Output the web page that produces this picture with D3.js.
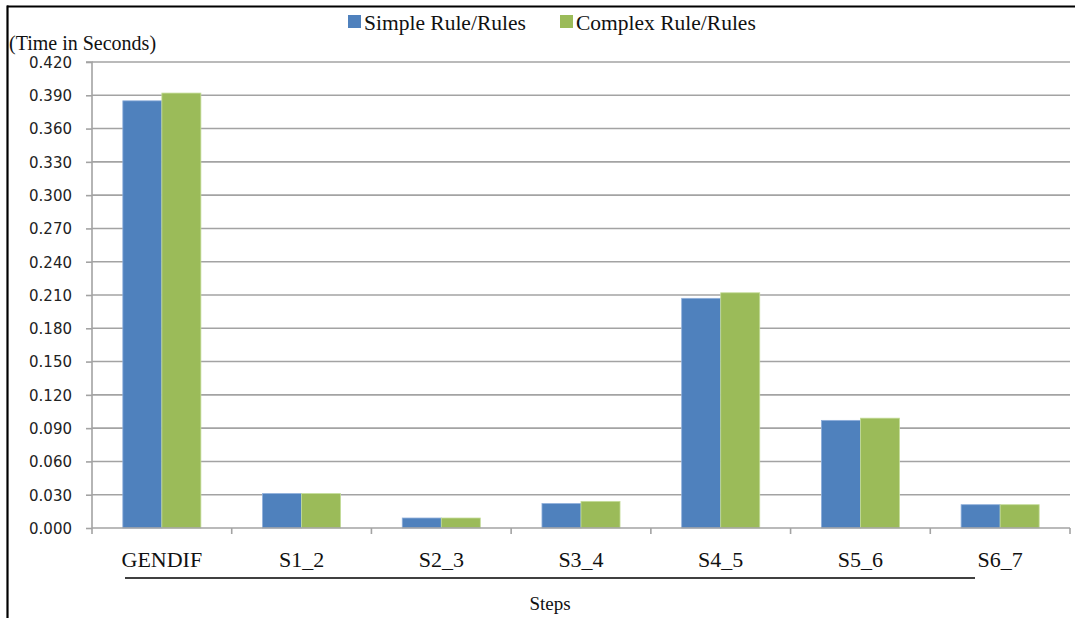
<!DOCTYPE html>
<html>
<head>
<meta charset="utf-8">
<script src="https://cdn.jsdelivr.net/npm/d3@7"></script>
<style>
  html, body { margin: 0; padding: 0; background: #fff; }
  svg { display: block; }
</style>
</head>
<body>
<svg id="chart" width="1075" height="618"></svg>
<script>
// Step names along the x axis
const categories = ["GENDIF", "S1_2", "S2_3", "S3_4", "S4_5", "S5_6", "S6_7"];
// Series names
const seriesNames = ["Simple Rule/Rules", "Complex Rule/Rules"];
// Time in seconds per step
const simpleValues = [0.385, 0.031, 0.009, 0.022, 0.207, 0.097, 0.021];
const complexValues = [0.392, 0.031, 0.009, 0.024, 0.212, 0.099, 0.021];
// Y axis tick values
const yTicks = [0, 0.03, 0.06, 0.09, 0.12, 0.15, 0.18, 0.21, 0.24, 0.27, 0.30, 0.33, 0.36, 0.39, 0.42];

const colors = ["#4F81BD", "#9BBB59"];
const rows = categories.map((c, i) => ({ cat: c, vals: [simpleValues[i], complexValues[i]] }));

const svg = d3.select("#chart");
const plotLeft = 92, plotRight = 1070, plotTop = 62, plotBottom = 528;
const serif = "'Liberation Serif', 'Times New Roman', serif";

const x = d3.scaleBand().domain(categories).range([plotLeft, plotRight]).paddingInner(0).paddingOuter(0);
const x1 = d3.scaleBand().domain([0, 1]).range([0, x.bandwidth()]).paddingInner(0).paddingOuter(0.79);
const y = d3.scaleLinear().domain([0, 0.42]).range([plotBottom, plotTop]);

// Frame lines (top and left)
svg.append("line").attr("x1", 7).attr("x2", 1075).attr("y1", 6.5).attr("y2", 6.5)
  .attr("stroke", "#000").attr("stroke-width", 2.2);
svg.append("line").attr("x1", 7.5).attr("x2", 7.5).attr("y1", 5.5).attr("y2", 618)
  .attr("stroke", "#000").attr("stroke-width", 2.2);

// Horizontal gridlines
svg.append("g").selectAll("line").data(yTicks.filter(d => d > 0)).join("line")
  .attr("x1", plotLeft).attr("x2", plotRight)
  .attr("y1", d => y(d)).attr("y2", d => y(d))
  .attr("stroke", "#a3a3a3").attr("stroke-width", 1.6);

// Y axis
const yAxis = svg.append("g").attr("transform", `translate(${plotLeft},0)`)
  .call(d3.axisLeft(y).tickValues(yTicks).tickSize(6).tickPadding(14).tickFormat(d3.format(".3f")));
yAxis.select(".domain").attr("stroke", "#a3a3a3").attr("stroke-width", 1.6).attr("d", `M-6,${plotTop}H0V${plotBottom}`);
yAxis.selectAll(".tick line").attr("stroke", "#a3a3a3").attr("stroke-width", 1.6);
yAxis.selectAll(".tick text").attr("font-family", "'DejaVu Sans', Verdana, sans-serif")
  .attr("font-size", 15).attr("fill", "#222").attr("dy", "0.36em");

// Bars
const groups = svg.append("g").selectAll("g").data(rows).join("g")
  .attr("transform", d => `translate(${x(d.cat)},0)`);
groups.selectAll("rect").data(d => d.vals.map((v, k) => ({ v, k }))).join("rect")
  .attr("x", d => x1(d.k))
  .attr("width", x1.bandwidth())
  .attr("y", d => y(d.v))
  .attr("height", d => y(0) - y(d.v))
  .attr("fill", d => colors[d.k])
  .attr("stroke", d => d.k === 0 ? "#8eaedb" : "#c4dc99")
  .attr("stroke-width", 0.8);

// X axis
const xAxis = svg.append("g").attr("transform", `translate(0,${plotBottom})`);
xAxis.append("line").attr("x1", plotLeft).attr("x2", plotRight).attr("y1", 0).attr("y2", 0)
  .attr("stroke", "#a3a3a3").attr("stroke-width", 1.6);
const boundaries = categories.map(c => x(c)).concat([plotRight]);
xAxis.selectAll("line.tk").data(boundaries).join("line").attr("class", "tk")
  .attr("x1", d => d).attr("x2", d => d).attr("y1", 0).attr("y2", 6)
  .attr("stroke", "#a3a3a3").attr("stroke-width", 1.6);
xAxis.selectAll("text").data(categories).join("text")
  .attr("x", d => x(d) + x.bandwidth() / 2).attr("y", 39)
  .attr("text-anchor", "middle")
  .attr("font-family", serif).attr("font-size", 22).attr("fill", "#111")
  .text(d => d);

// Rule under the category labels
svg.append("line").attr("x1", 125).attr("x2", 975).attr("y1", 578).attr("y2", 578)
  .attr("stroke", "#000").attr("stroke-width", 1.6);

// Axis titles
svg.append("text").attr("x", 550).attr("y", 610).attr("text-anchor", "middle")
  .attr("font-family", serif).attr("font-size", 19).attr("fill", "#111").text("Steps");
svg.append("text").attr("x", 9).attr("y", 50)
  .attr("font-family", serif).attr("font-size", 20).attr("fill", "#111").text("(Time in Seconds)");

// Legend
const legendX = [348, 560];
const legend = svg.append("g").selectAll("g").data(seriesNames).join("g")
  .attr("transform", (d, i) => `translate(${legendX[i]},0)`);
legend.append("rect").attr("x", 0).attr("y", 15).attr("width", 13).attr("height", 13)
  .attr("fill", (d, i) => colors[i]);
legend.append("text").attr("x", 16).attr("y", 30)
  .attr("font-family", serif).attr("font-size", 21.5).attr("fill", "#111")
  .text(d => d);
</script>
</body>
</html>
